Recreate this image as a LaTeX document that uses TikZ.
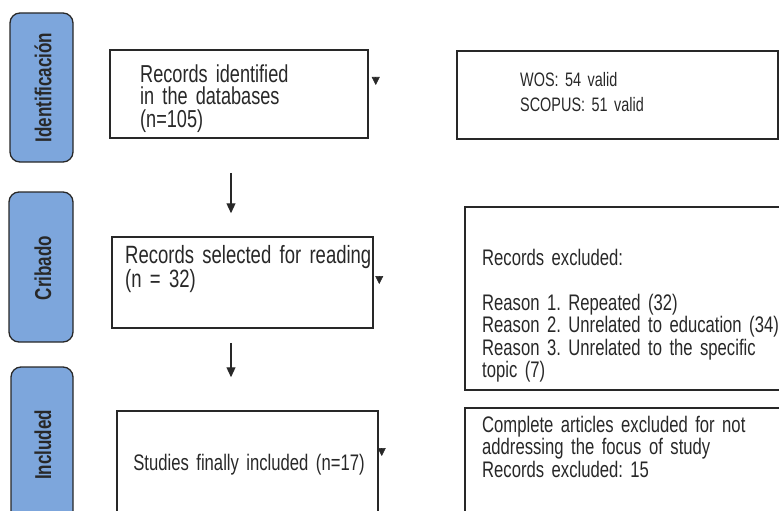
\documentclass[tikz,border=0pt]{standalone}
\usepackage{fontspec}
\setmainfont[FakeStretch=0.74]{Liberation Sans}
\usetikzlibrary{arrows.meta}
\definecolor{phaseblue}{RGB}{125,166,220}
\definecolor{ink}{RGB}{40,40,40}
\newcommand{\tightsp}{\frenchspacing\spaceskip=0.22em plus 0.2em minus 0.05em\relax}

\begin{document}
\begin{tikzpicture}[x=1pt,y=-1pt,
  phase/.style={draw=ink,fill=phaseblue,line width=1.3pt,rounded corners=10pt,inner sep=0pt},
  plabel/.style={rotate=90,font=\fontsize{23}{23}\selectfont\bfseries,text=ink,inner sep=0pt},
  box/.style={draw=ink,line width=1.5pt,inner sep=0pt},
  btext/.style={anchor=base west,align=left,inner sep=0pt,text=ink,font=\fontsize{24.5}{22.5}\selectfont\tightsp},
  stext/.style={anchor=base west,align=left,inner sep=0pt,text=ink,font=\fontsize{22.5}{22.5}\selectfont\tightsp},
  arr/.style={-{Triangle[length=10pt,width=9pt]},line width=1.2pt,draw=ink},
  sidetip/.style={-{Triangle[length=8pt,width=8pt]},draw=ink,line width=0.6pt}]
  \useasboundingbox (0,0) rectangle (779,511);
  \clip (0,0) rectangle (779,511);
  % phases
  \node[phase,minimum width=63pt,minimum height=149pt] (ident) at (41.5,87.5) {};
  \node[phase,minimum width=64pt,minimum height=150pt] (crib) at (41,267) {};
  \node[phase,minimum width=62pt,minimum height=156pt] (incl) at (42,445) {};
  \node[plabel] (identL) at (43,87.5) {Identificación};
  \node[plabel] (cribL) at (43,268) {Cribado};
  \node[plabel] (inclL) at (43,445) {Included};
  % left column
  \node[box,minimum width=258pt,minimum height=88pt] (rec) at (239,94) {};
  \node[box,minimum width=261pt,minimum height=91pt] (sel) at (242.5,282.5) {};
  \node[box,minimum width=261pt,minimum height=120pt] (inc) at (247.5,471) {};
  \node[btext,text width=220pt] (recT) at (140,82) {Records identified\\in the databases\\(n=105)};
  \node[btext,text width=280pt,font=\fontsize{25}{24}\selectfont\tightsp] (selT) at (125,263) {Records selected for reading\\(n = 32)};
  \node[stext,anchor=base,text width=300pt,align=center] (incT) at (249,470) {Studies finally included (n=17)};
  % right column
  \node[box,minimum width=321pt,minimum height=88pt] (db) at (617.5,95) {};
  \node[box,minimum width=320pt,minimum height=183pt] (exc) at (625,298.5) {};
  \node[box,minimum width=320pt,minimum height=120pt] (ful) at (625,468) {};
  \node[stext,font=\fontsize{19.5}{24.5}\selectfont\tightsp,text width=220pt] (dbT) at (520,87) {WOS: 54 valid\\SCOPUS: 51 valid};
  \node[stext,text width=340pt] (excT) at (482,265) {Records excluded:\\[22.5pt]Reason 1. Repeated (32)\\Reason 2. Unrelated to education (34)\\\makebox[291pt][s]{Reason 3. Unrelated to the specific}\\topic (7)};
  \node[stext,text width=340pt] (fulT) at (482,432) {Complete articles excluded for not\\addressing the focus of study\\Records excluded: 15};
  % connectors
  \draw[arr,shorten <=34pt,shorten >=23pt] ([xshift=-8pt]rec.south) -- ([xshift=-11.5pt]sel.north);
  \draw[arr,shorten <=14pt,shorten >=33pt] ([xshift=-11.5pt]sel.south) -- ([xshift=-16.5pt]inc.north);
  \draw[sidetip] ([xshift=7pt,yshift=16pt]rec.east) -- ++(0,7);
  \draw[sidetip] ([xshift=5.5pt,yshift=5.5pt]sel.east) -- ++(0,7);
  \draw[sidetip] ([xshift=3pt,yshift=23pt]inc.east) -- ++(0,8);
\end{tikzpicture}
\end{document}
